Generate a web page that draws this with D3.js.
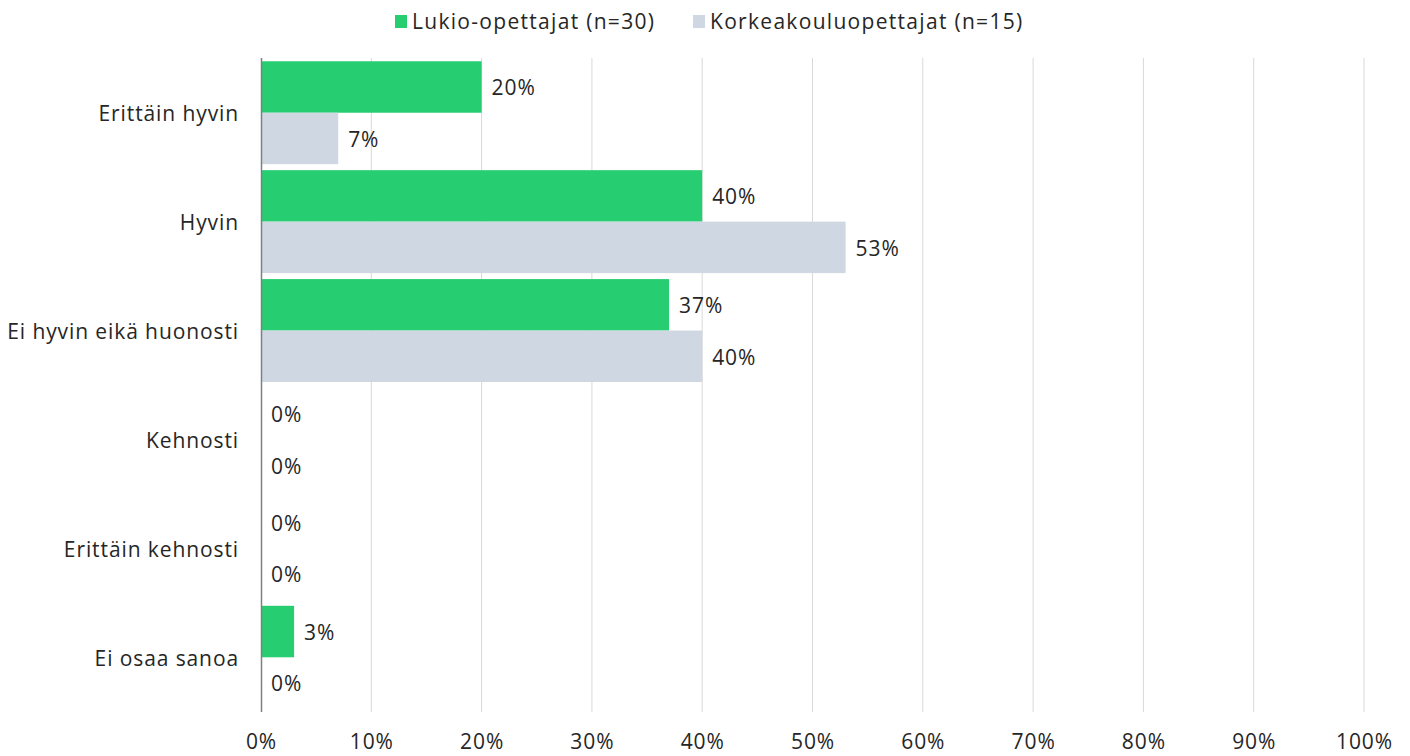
<!DOCTYPE html>
<html>
<head>
<meta charset="utf-8">
<script src="https://cdn.jsdelivr.net/npm/d3@7"></script>
<style>
body { margin: 0; background: #fff; }
text { font-family: "Open Sans", Lato, sans-serif; fill: #262626; letter-spacing: 0.9px; }
</style>
</head>
<body>
<script>
var categories = ["Erittäin hyvin", "Hyvin", "Ei hyvin eikä huonosti", "Kehnosti", "Erittäin kehnosti", "Ei osaa sanoa"];
var seriesNames = ["Lukio-opettajat (n=30)", "Korkeakouluopettajat (n=15)"];
var lukio = [20, 40, 37, 0, 0, 3];
var korkea = [7, 53, 40, 0, 0, 0];
var ticks = [0, 10, 20, 30, 40, 50, 60, 70, 80, 90, 100];
var colors = ["#26cd71", "#cfd8e2"];

var W = 1410, H = 756;
var margin = { top: 58, right: 46, bottom: 44, left: 261 };
var w = W - margin.left - margin.right;
var h = H - margin.top - margin.bottom;
var fs = "21px";

var svg = d3.select("body").append("svg")
    .attr("width", W)
    .attr("height", H);

var g = svg.append("g")
    .attr("transform", "translate(" + margin.left + "," + margin.top + ")");

var x = d3.scaleLinear().domain([0, 100]).range([0, w]);
var y = d3.scaleBand().domain(categories).range([0, h]).paddingInner(0.055).paddingOuter(0.03);
var y1 = d3.scaleBand().domain([0, 1]).range([0, y.bandwidth()]);

// gridlines
g.selectAll("line.grid")
    .data(ticks.slice(1))
    .enter().append("line")
    .attr("class", "grid")
    .attr("x1", function (d) { return x(d); })
    .attr("x2", function (d) { return x(d); })
    .attr("y1", 0)
    .attr("y2", h)
    .attr("stroke", "#d9d9d9")
    .attr("stroke-width", 1);

var data = [];
categories.forEach(function (c, i) {
    data.push({ cat: c, s: 0, v: lukio[i] });
    data.push({ cat: c, s: 1, v: korkea[i] });
});

g.selectAll("rect.bar")
    .data(data)
    .enter().append("rect")
    .attr("class", "bar")
    .attr("x", 0)
    .attr("y", function (d) { return y(d.cat) + y1(d.s); })
    .attr("width", function (d) { return x(d.v); })
    .attr("height", y1.bandwidth())
    .attr("fill", function (d) { return colors[d.s]; });

g.selectAll("text.val")
    .data(data)
    .enter().append("text")
    .attr("class", "val")
    .attr("x", function (d) { return x(d.v) + 10; })
    .attr("y", function (d) { return y(d.cat) + y1(d.s) + y1.bandwidth() / 2 + 1; })
    .attr("dy", "0.35em")
    .style("font-size", fs)
    .text(function (d) { return d.v + "%"; });

// y axis line
g.append("line")
    .attr("x1", 0.5).attr("x2", 0.5)
    .attr("y1", 0).attr("y2", h)
    .attr("stroke", "#7f7f7f")
    .attr("stroke-width", 1.5);

// category labels
g.selectAll("text.cat")
    .data(categories)
    .enter().append("text")
    .attr("class", "cat")
    .attr("x", -22)
    .attr("y", function (d) { return y(d) + y.bandwidth() / 2 + 1; })
    .attr("dy", "0.35em")
    .attr("text-anchor", "end")
    .style("font-size", fs)
    .text(function (d) { return d; });

// x axis
var xAxis = d3.axisBottom(x)
    .tickValues(ticks)
    .tickSize(0)
    .tickPadding(22)
    .tickFormat(function (d) { return d + "%"; });

var ax = g.append("g")
    .attr("transform", "translate(0," + h + ")")
    .call(xAxis);
ax.select(".domain").remove();
ax.selectAll("text")
    .style("font-size", fs)
    .style("font-family", "'Open Sans', Lato, sans-serif")
    .attr("fill", "#262626");

// legend
var legend = svg.append("g");
var lx = [395, 693];
seriesNames.forEach(function (s, i) {
    legend.append("rect")
        .attr("x", lx[i])
        .attr("y", 15)
        .attr("width", 12)
        .attr("height", 13)
        .attr("fill", colors[i]);
    legend.append("text")
        .attr("x", lx[i] + 17)
        .attr("y", 22)
        .attr("dy", "0.35em")
        .style("font-size", fs)
        .style("letter-spacing", "1.3px")
        .text(s);
});
</script>
</body>
</html>
